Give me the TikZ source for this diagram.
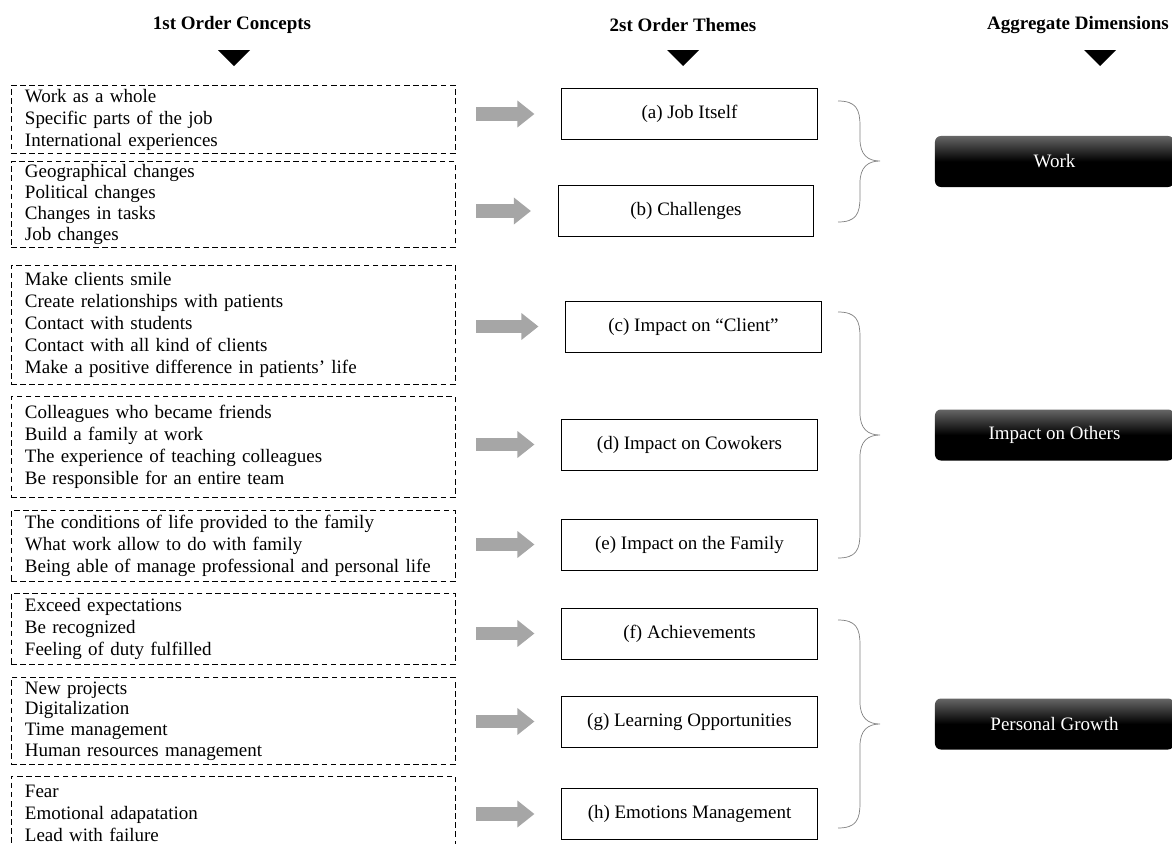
\documentclass[tikz,border=0pt]{standalone}
\usepackage{fontspec}
\setmainfont{Liberation Serif}
\usetikzlibrary{arrows.meta}

% curly brace: top y, tip y, bottom y
\newcommand{\curlybrace}[3]{%
\draw[bracket] (838,#1) .. controls (856,#1) and (860,#1+8) .. (860,#1+25)
  -- (860,#2-22) .. controls (860,#2-6) and (868,#2) .. (880,#2)
  .. controls (868,#2) and (860,#2+6) .. (860,#2+22)
  -- (860,#3-25) .. controls (860,#3-8) and (856,#3) .. (838,#3);}

\begin{document}
\begin{tikzpicture}[x=0.025cm, y=-0.025cm,
  every node/.style={font=\fontsize{13.5}{15.6}\selectfont},
  heading/.style={font=\fontsize{13.5}{16}\selectfont\bfseries},
  tight/.style={font=\fontsize{13.5}{14.8}\selectfont},
  concept/.style={draw, dash pattern=on 4pt off 2.5pt, line width=0.6pt, text width=10.4cm, inner xsep=0.35cm, inner ysep=2pt, align=left},
  theme/.style={draw, line width=0.7pt, minimum width=6.375cm, minimum height=1.275cm},
  dimension/.style={rounded corners=0.15cm, top color=black!60, bottom color=black, middle color=black, text=white, minimum width=5.975cm, minimum height=1.275cm},
  fatarrow/.style={draw=black!35, line width=0.33cm, -{Triangle[length=0.43cm, width=0.65cm]}, shorten <=0.525cm, shorten >=0.675cm},
  bracket/.style={draw=gray, line width=0.5pt}]
\useasboundingbox (0,0) rectangle (1172,843);

\node[heading] (h1) at (232,25) {1st Order Concepts};
\node[heading] (h2) at (683,25) {2st Order Themes};
\node[heading] (h3) at (1078,25) {Aggregate Dimensions};
\foreach \x in {234,683,1100}
  \fill (\x-16,50) -- (\x+16,50) -- (\x,66) -- cycle;

% 1st order concepts
\node[concept, minimum height=1.7cm] (c1) at (233,119.5) {Work as a whole\\Specific parts of the job\\International experiences};
\node[concept, tight, minimum height=1.975cm] (c2) at (233,204.5) {Geographical changes\\Political changes\\Changes in tasks\\Job changes};
\node[concept, minimum height=2.975cm] (c3) at (233,325) {Make clients smile\\Create relationships with patients\\Contact with students\\Contact with all kind of clients\\Make a positive difference in patients' life};
\node[concept, minimum height=2.525cm] (c4) at (233,447) {Colleagues who became friends\\Build a family at work\\The experience of teaching colleagues\\Be responsible for an entire team};
\node[concept, minimum height=1.775cm] (c5) at (233,546) {The conditions of life provided to the family\\What work allow to do with family\\Being able of manage professional and personal life};
\node[concept, minimum height=1.775cm] (c6) at (233,629) {Exceed expectations\\Be recognized\\Feeling of duty fulfilled};
\node[concept, tight, minimum height=2.175cm] (c7) at (233,721) {New projects\\Digitalization\\Time management\\Human resources management};
\node[concept, minimum height=1.85cm] (c8) at (233,813) {Fear\\Emotional adapatation\\Lead with failure};

% 2nd order themes
\node[theme] (t1) at (689.5,114) {(a) Job Itself};
\node[theme] (t2) at (686,211) {(b) Challenges};
\node[theme] (t3) at (693.5,326.5) {(c) Impact on “Client”};
\node[theme] (t4) at (689.5,444.5) {(d) Impact on Cowokers};
\node[theme] (t5) at (689.5,544.5) {(e) Impact on the Family};
\node[theme] (t6) at (689.5,633.5) {(f) Achievements};
\node[theme] (t7) at (689.5,721.5) {(g) Learning Opportunities};
\node[theme] (t8) at (689.5,814) {(h) Emotions Management};

\foreach \i in {1,...,8}
  \draw[fatarrow] (c\i.east |- t\i.west) -- (t\i.west);

% aggregate dimensions
\curlybrace{101}{161}{222}
\curlybrace{312}{435}{558}
\curlybrace{620}{724}{828}
\node[dimension] (d1) at (1054.5,161.5) {Work};
\node[dimension] (d2) at (1054.5,435) {Impact on Others};
\node[dimension] (d3) at (1054.5,724) {Personal Growth};
\end{tikzpicture}
\end{document}
